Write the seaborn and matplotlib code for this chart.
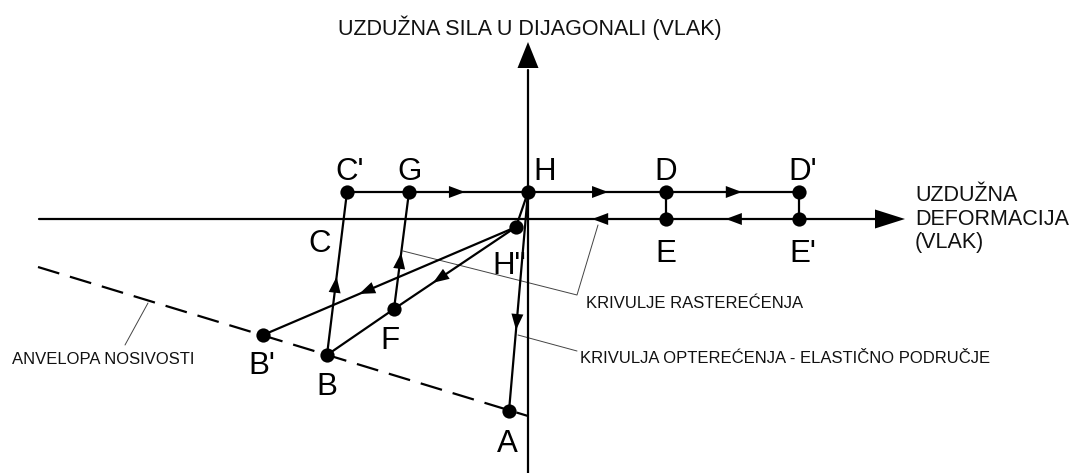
import numpy as np
import pandas as pd
import matplotlib
matplotlib.use("Agg")
import matplotlib.pyplot as plt
import seaborn as sns

# Points of the hysteresis path (strain, force), origin at the axis crossing
point_names = ["H", "C'", "G", "D", "D'", "E", "E'", 'H"', "B'", "B", "F", "A"]
point_x = [0, -181, -119, 138, 271, 138, 271, -12, -265, -201, -134, -19]
point_y = [27, 27, 27, 27, 27, 0, 0, -8, -116, -136, -90, -192]

# load / unload paths between points
paths = [["C'", "G", "H", "D", "D'"], ["C'", "B"], ["G", "F"], ["H", "A"],
         ["H", 'H"'], ['H"', "B'"], ['H"', "F"], ["F", "B"],
         ["D", "E"], ["D'", "E'"]]

# direction arrows: from, to, position of the tip along the segment
arrows = [("G", "H", 0.47), ("H", "D", 0.58), ("D", "D'", 0.57),
          ("E", "O", 0.535), ("E'", "E", 0.55), ("B", "C'", 0.48),
          ("F", "G", 0.48), ('H"', "B'", 0.62), ('H"', "F", 0.68),
          ("H", "A", 0.63)]

# capacity envelope (dashed)
env_x = [-490, 0]
env_y = [-48, -197]

# axis extents
xaxis_x = [-489, 377]
yaxis_y = [-254, 177]

pts = {n: np.array([x, y], float) for n, x, y in zip(point_names, point_x, point_y)}
pts["O"] = np.array([0.0, 0.0])

sns.set_theme(style="white")
plt.rcParams['font.family'] = ['Liberation Sans', 'DejaVu Sans']

fig = plt.figure(figsize=(10.71, 4.73), dpi=100)
ax = fig.add_axes([0, 0, 1, 1])
ax.set_xlim(-528, 543)
ax.set_ylim(-254, 219)
ax.axis('off')

LW = 1.6


def head(tip, direction, length, half):
    d = np.asarray(direction, float)
    d = d / np.linalg.norm(d)
    n = np.array([-d[1], d[0]])
    base = tip - d * length
    verts = np.array([tip, base + n * half, base - n * half])
    ax.fill(verts[:, 0], verts[:, 1], color='black', lw=0, zorder=6)


# axes with arrowheads
ax_len = 28
sns.lineplot(x=[xaxis_x[0], xaxis_x[1] - ax_len], y=[0, 0], color='black', lw=LW, ax=ax)
sns.lineplot(x=[0, 0], y=[yaxis_y[0], yaxis_y[1] - ax_len], color='black', lw=LW, ax=ax,
             sort=False, estimator=None)
head(np.array([xaxis_x[1], 0.0]), (1, 0), 30, 9.5)
head(np.array([0.0, yaxis_y[1]]), (0, 1), 26, 10.5)

# envelope
ax.plot(env_x, env_y, color='black', lw=LW, dashes=(10, 5), zorder=2)

# paths
rows = []
for i, p in enumerate(paths):
    for k, name in enumerate(p):
        rows.append({"seg": i, "order": k, "x": pts[name][0], "y": pts[name][1]})
seg_df = pd.DataFrame(rows)
sns.lineplot(data=seg_df, x="x", y="y", units="seg", estimator=None, sort=False,
             color='black', lw=LW, legend=False, ax=ax)

# arrows along the paths
for a, b, f in arrows:
    p0, p1 = pts[a], pts[b]
    head(p0 + (p1 - p0) * f, p1 - p0, 16, 6)

# dots
dot_df = pd.DataFrame({"x": point_x, "y": point_y})
sns.scatterplot(data=dot_df, x="x", y="y", s=105, color='black', edgecolor='black',
                linewidth=0, zorder=7, ax=ax)

# letter labels
label_off = {"C'": (3, 24), "G": (1, 24), "H": (17, 24), "D": (0, 24), "D'": (4, 24),
             "E": (0, -31), "E'": (4, -31), 'H"': (-7, -35), "F": (-4, -28),
             "B'": (-1, -27), "B": (0, -28), "A": (-2, -29)}
for name, (dx, dy) in label_off.items():
    ax.text(pts[name][0] + dx, pts[name][1] + dy, name, fontsize=22.5,
            ha='center', va='center_baseline', color='black')
ax.text(-208, -21, "C", fontsize=22.5, ha='center', va='center_baseline', color='black')

# titles of the axes
ax.text(2, 194, "UZDUŽNA SILA U DIJAGONALI (VLAK)", fontsize=15.5, ha='center',
        va='center_baseline', color='#111111')
for txt, yy in zip(["UZDUŽNA", "DEFORMACIJA", "(VLAK)"], [26, 2.3, -21]):
    ax.text(387, yy, txt, fontsize=15.5, ha='left', va='center_baseline', color='#111111')

# leader lines and notes
lead = dict(color='#444444', lw=0.7, zorder=1)
ax.plot([-125, 49, 70], [-32, -76, -6], **lead)
ax.plot([-10, 49], [-116, -132], **lead)
ax.plot([-380, -403], [-84, -126], **lead)
ax.text(58, -83, "KRIVULJE RASTEREĆENJA", fontsize=12, ha='left', va='center_baseline',
        color='#111111')
ax.text(52, -138, "KRIVULJA OPTEREĆENJA - ELASTIČNO PODRUČJE", fontsize=12, ha='left',
        va='center_baseline', color='#111111')
ax.text(-516, -139, "ANVELOPA NOSIVOSTI", fontsize=12, ha='left', va='center_baseline',
        color='#111111')

fig.savefig("out.png", dpi=100)
